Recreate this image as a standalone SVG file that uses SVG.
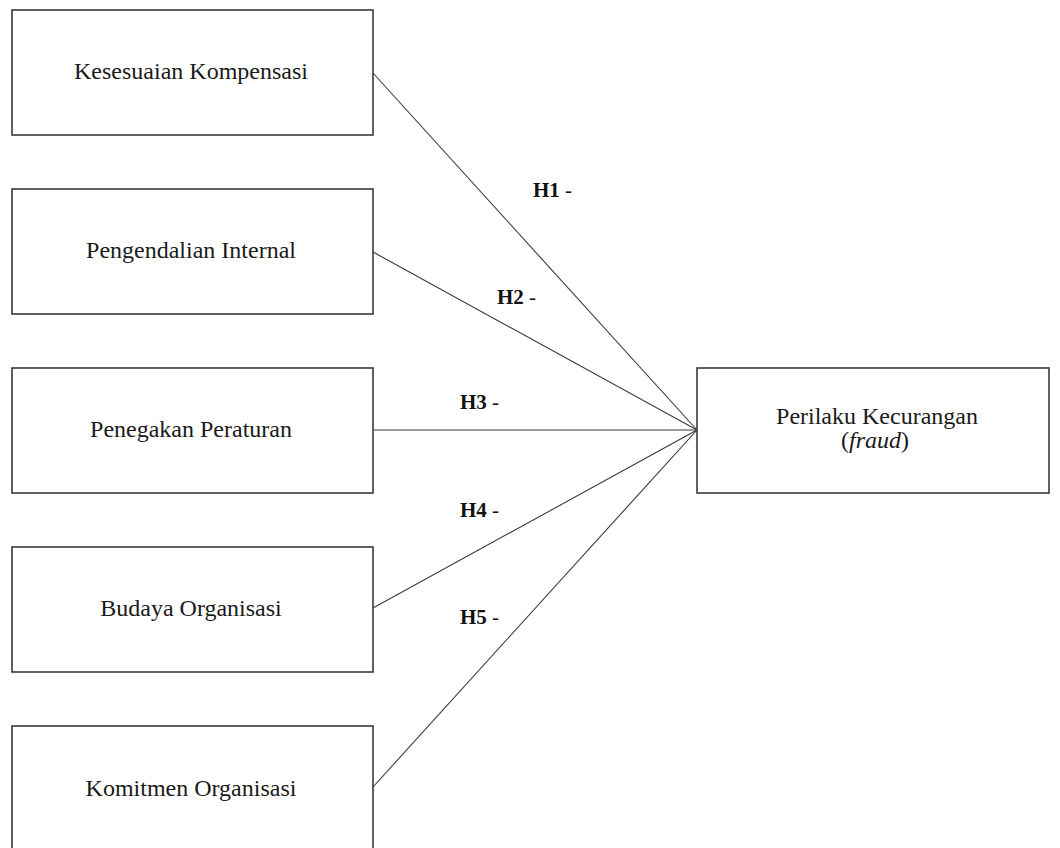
<svg xmlns="http://www.w3.org/2000/svg" width="1060" height="848" viewBox="0 0 1060 848">
<style>
.box{fill:#fff;stroke:#3a3a3a;stroke-width:1.6}
.lbl{font-family:"Liberation Serif","Times New Roman",serif;font-size:24px;fill:#1a1a1a;text-anchor:middle}
.h{font-family:"Liberation Serif","Times New Roman",serif;font-size:21px;font-weight:bold;fill:#111}
.h tspan{font-weight:normal}
.con{stroke:#3a3a3a;stroke-width:1.1;fill:none}
</style>
<rect width="1060" height="848" fill="#fff"/>
<g id="connectors">
<line class="con" x1="373" y1="73" x2="697" y2="430"/>
<line class="con" x1="373" y1="252" x2="697" y2="430"/>
<line class="con" x1="373" y1="430" x2="697" y2="430"/>
<line class="con" x1="373" y1="608" x2="697" y2="430"/>
<line class="con" x1="373" y1="787" x2="697" y2="430"/>
</g>
<g id="labels">
<text class="h" x="533" y="197">H1 <tspan>-</tspan></text>
<text class="h" x="497" y="304">H2 <tspan>-</tspan></text>
<text class="h" x="460" y="409">H3 <tspan>-</tspan></text>
<text class="h" x="460" y="517">H4 <tspan>-</tspan></text>
<text class="h" x="460" y="624">H5 <tspan>-</tspan></text>
</g>
<g id="node1">
<rect class="box" x="12" y="10" width="361" height="125"/>
<text class="lbl" x="191" y="79">Kesesuaian Kompensasi</text>
</g>
<g id="node2">
<rect class="box" x="12" y="189" width="361" height="125"/>
<text class="lbl" x="191" y="258">Pengendalian Internal</text>
</g>
<g id="node3">
<rect class="box" x="12" y="368" width="361" height="125"/>
<text class="lbl" x="191" y="437">Penegakan Peraturan</text>
</g>
<g id="node4">
<rect class="box" x="12" y="547" width="361" height="125"/>
<text class="lbl" x="191" y="616">Budaya Organisasi</text>
</g>
<g id="node5">
<rect class="box" x="12" y="726" width="361" height="126"/>
<text class="lbl" x="191" y="796">Komitmen Organisasi</text>
</g>
<g id="node6">
<rect class="box" x="697" y="368" width="352" height="125"/>
<text class="lbl" x="877" y="424">Perilaku Kecurangan</text>
<text class="lbl" x="875" y="448">(<tspan font-style="italic">fraud</tspan>)</text>
</g>
</svg>
